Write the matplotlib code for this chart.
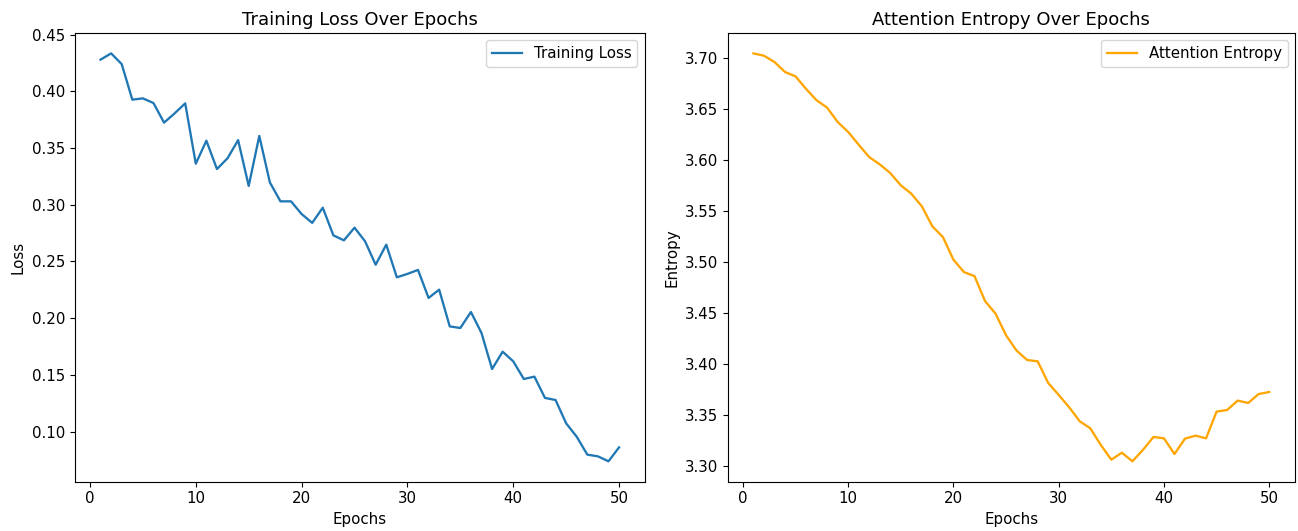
import matplotlib
matplotlib.use("Agg")
import matplotlib.pyplot as plt
import numpy as np

epochs = np.arange(1, 51)

training_loss = [
    0.428, 0.4335, 0.424, 0.3927, 0.3938, 0.3897, 0.3724, 0.3806, 0.3894, 0.3362,
    0.3565, 0.3315, 0.341, 0.357, 0.3166, 0.3607, 0.3197, 0.303, 0.303, 0.2918,
    0.284, 0.2974, 0.273, 0.2686, 0.2798, 0.2677, 0.2471, 0.2648, 0.236, 0.239,
    0.2425, 0.2178, 0.2251, 0.1927, 0.1913, 0.2054, 0.1869, 0.1551, 0.1704, 0.1619,
    0.1463, 0.1484, 0.1296, 0.1278, 0.1072, 0.0954, 0.0796, 0.0781, 0.0737, 0.086,
]

attention_entropy = [
    3.7049, 3.7026, 3.6964, 3.6866, 3.6823, 3.670, 3.6588, 3.6516, 3.6375, 3.6277,
    3.6152, 3.603, 3.5959, 3.5874, 3.5753, 3.5671, 3.5547, 3.535, 3.5245, 3.5023,
    3.4901, 3.4862, 3.4617, 3.4493, 3.428, 3.413, 3.4038, 3.4025, 3.3813, 3.3695,
    3.3573, 3.3436, 3.3367, 3.3204, 3.3059, 3.3128, 3.3043, 3.3155, 3.3282, 3.3269,
    3.3115, 3.3266, 3.3295, 3.3269, 3.3531, 3.3547, 3.3639, 3.3616, 3.3704, 3.3724,
]

# reference looks rendered a bit larger than default
plt.rcParams.update({
    'font.size': 10.8,
    'axes.titlesize': 13,
    'axes.labelsize': 10.8,
    'xtick.labelsize': 10.8,
    'ytick.labelsize': 10.8,
    'legend.fontsize': 10.8,
    'lines.linewidth': 1.65,
})

fig = plt.figure(figsize=(12.98, 5.31), dpi=100)
ax1 = fig.add_axes([0.0575, 0.0928, 0.4394, 0.8451])
ax2 = fig.add_axes([0.5606, 0.0928, 0.4371, 0.8451])

ax1.plot(epochs, training_loss, label='Training Loss')
ax1.set_title('Training Loss Over Epochs')
ax1.set_xlabel('Epochs')
ax1.set_ylabel('Loss')
ax1.legend()

ax2.plot(epochs, attention_entropy, label='Attention Entropy', color='orange')
ax2.set_title('Attention Entropy Over Epochs')
ax2.set_xlabel('Epochs')
ax2.set_ylabel('Entropy')
ax2.legend()

fig.savefig('out.png', dpi=100)
